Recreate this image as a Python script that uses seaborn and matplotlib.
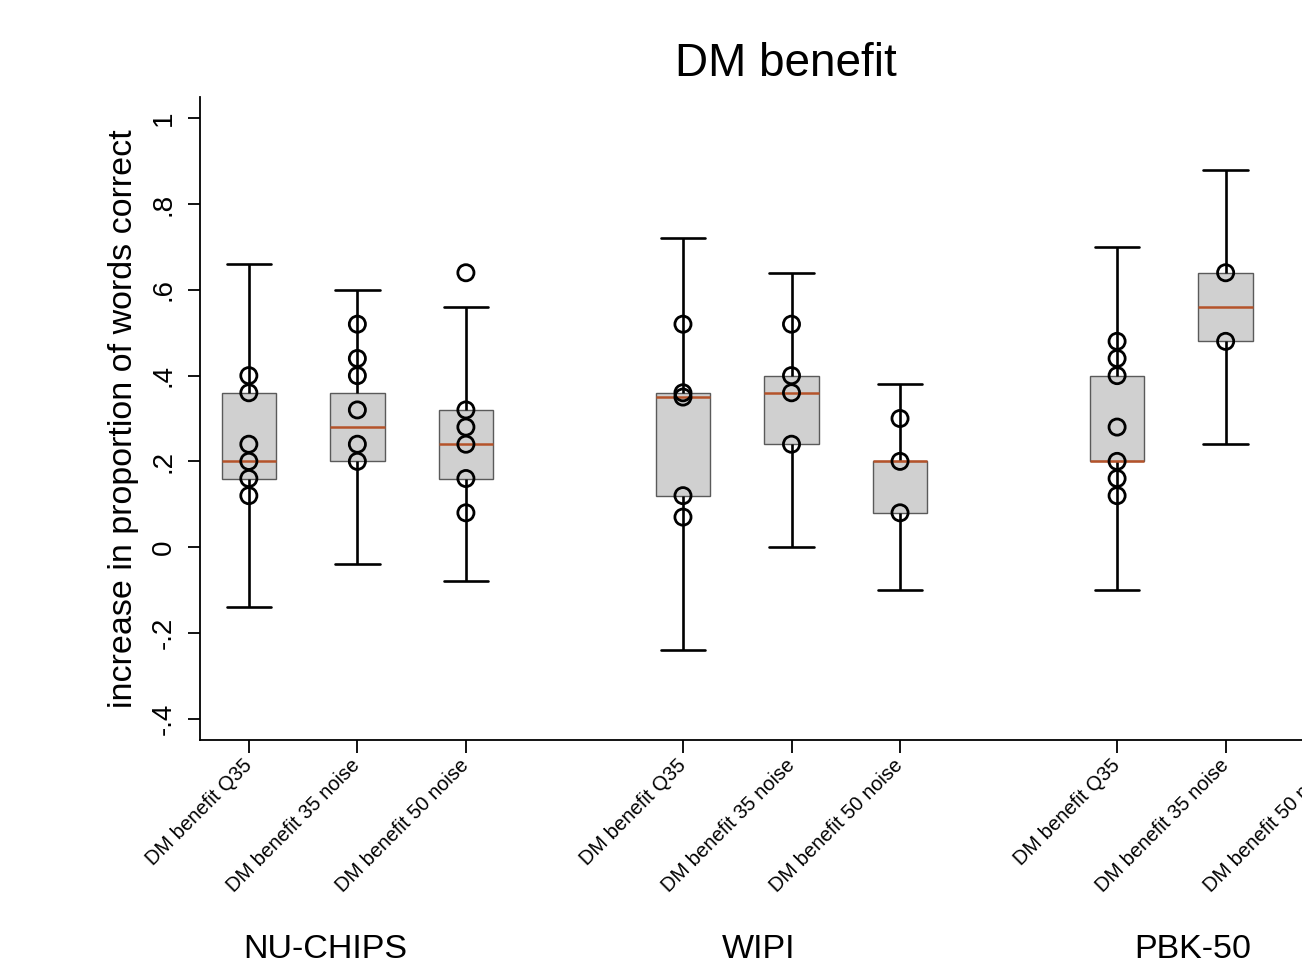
import numpy as np
import pandas as pd
import matplotlib
matplotlib.use("Agg")
import matplotlib.pyplot as plt
import matplotlib.transforms as mtransforms
import seaborn as sns

# ---- data ----
groups = ["NU-CHIPS", "WIPI", "PBK-50"]
conditions = ["DM benefit Q35", "DM benefit 35 noise", "DM benefit 50 noise"]

# five-number summaries for each drawn box (PBK-50 / 50 noise lies outside the frame)
whisker_low = [-0.14, -0.04, -0.08, -0.24, 0.00, -0.10, -0.10, 0.24]
quartile_1 = [0.16, 0.20, 0.16, 0.12, 0.24, 0.08, 0.20, 0.48]
medians = [0.20, 0.28, 0.24, 0.35, 0.36, 0.20, 0.20, 0.56]
quartile_3 = [0.36, 0.36, 0.32, 0.36, 0.40, 0.20, 0.40, 0.64]
whisker_high = [0.66, 0.60, 0.56, 0.72, 0.64, 0.38, 0.70, 0.88]

# overlaid observations
points = [
    [0.40, 0.36, 0.24, 0.20, 0.16, 0.12],
    [0.52, 0.44, 0.40, 0.32, 0.24, 0.20],
    [0.64, 0.32, 0.28, 0.24, 0.16, 0.08],
    [0.52, 0.36, 0.35, 0.12, 0.07],
    [0.52, 0.40, 0.36, 0.24],
    [0.30, 0.20, 0.08],
    [0.48, 0.44, 0.40, 0.28, 0.20, 0.16, 0.12],
    [0.64, 0.48],
]

ytick_values = [-0.4, -0.2, 0, 0.2, 0.4, 0.6, 0.8, 1.0]
ytick_labels = ["-.4", "-.2", "0", ".2", ".4", ".6", ".8", "1"]

# ---- positions: 3 conditions per group, one empty slot between groups ----
all_positions = [4 * g + j for g in range(len(groups)) for j in range(len(conditions))]
all_labels = [c for g in groups for c in conditions]
box_positions = all_positions[:len(medians)]

box_rows = []
for pos, lo, a, m, b, hi in zip(box_positions, whisker_low, quartile_1, medians,
                                quartile_3, whisker_high):
    for v in (lo, a, m, b, hi):
        box_rows.append({"pos": pos, "value": v})
box_df = pd.DataFrame(box_rows)

pt_rows = []
for pos, vals in zip(box_positions, points):
    for v in vals:
        pt_rows.append({"pos": pos, "value": v})
pt_df = pd.DataFrame(pt_rows)

# ---- style ----
sns.set_theme(style="white")
plt.rcParams["font.family"] = ["Liberation Sans", "DejaVu Sans"]
plt.rcParams["text.color"] = "black"
plt.rcParams["axes.labelcolor"] = "black"
plt.rcParams["xtick.color"] = "black"
plt.rcParams["ytick.color"] = "black"

W, H = 1302, 968
fig = plt.figure(figsize=(W / 100, H / 100), dpi=100)
ax = fig.add_axes([200 / W, (H - 740) / H, 1183 / W, (740 - 97) / H])

sns.boxplot(
    data=box_df, x="pos", y="value", native_scale=True, whis=np.inf,
    width=0.5, ax=ax, showfliers=False,
    boxprops=dict(facecolor="#d0d0d0", edgecolor="#5a5a5a", linewidth=1.0),
    whiskerprops=dict(color="black", linewidth=1.9),
    capprops=dict(color="black", linewidth=1.9),
    medianprops=dict(color="#b5532a", linewidth=1.8),
    capwidths=0.41,
)

sns.scatterplot(
    data=pt_df, x="pos", y="value", ax=ax, marker="o", s=135,
    facecolors="none", edgecolor="black", linewidth=2.0, zorder=5, legend=False,
)

ax.set_xlim(-0.45, 10.45)
ax.set_ylim(-0.45, 1.05)

ax.set_yticks(ytick_values)
ax.set_yticklabels(ytick_labels, rotation=90, va="center", fontsize=20)
ax.set_xticks(all_positions)
ax.set_xticklabels(all_labels, rotation=45, ha="right", va="center",
                   rotation_mode="anchor", fontsize=14.5)
ax.tick_params(axis="both", which="both", direction="out", length=9, width=1.3,
               color="black", left=True, bottom=True)
ax.tick_params(axis="y", pad=8)
ax.tick_params(axis="x", pad=7)

ax.set_xlabel("")
ax.set_ylabel("increase in proportion of words correct", fontsize=24.5, labelpad=8)

for side in ("top", "right"):
    ax.spines[side].set_visible(False)
for side in ("left", "bottom"):
    ax.spines[side].set_color("black")
    ax.spines[side].set_linewidth(1.3)

# group labels below the tick labels
trans = mtransforms.blended_transform_factory(ax.transData, fig.transFigure)
for g, name in enumerate(groups):
    ax.text(4 * g + 1 - 0.3, (H - 950) / H, name, transform=trans,
            ha="center", va="center", fontsize=24.5, clip_on=False)

fig.text(786 / W, 1 - 64 / H, "DM benefit", ha="center", va="center", fontsize=33)

fig.savefig("out.png", dpi=100)
